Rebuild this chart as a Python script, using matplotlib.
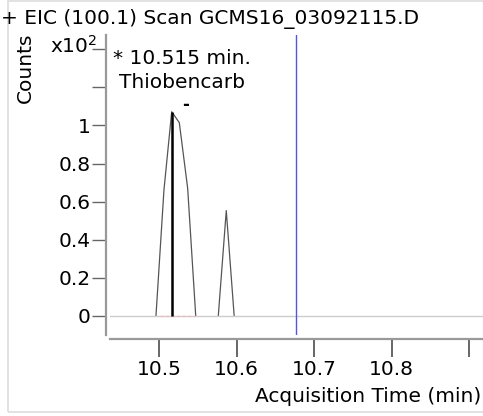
import matplotlib
matplotlib.use('Agg')
import matplotlib.pyplot as plt
import matplotlib.patches as mpatches

# Данные хроматограммы (x10^2 counts)
peak1_times = [10.4961, 10.5064, 10.5164, 10.5262, 10.5370, 10.5474]
peak1_counts = [0.0, 0.661, 1.072, 1.015, 0.670, 0.0]
peak2_times = [10.5765, 10.5868, 10.5970]
peak2_counts = [0.0, 0.553, 0.0]

rt_time = 10.5164
rt_height = 1.072
baseline_span = [10.5013, 10.5465]
cursor_time = 10.6768

x_ticks = [10.5, 10.6, 10.7, 10.8, 10.9]
x_labels = ['10.5', '10.6', '10.7', '10.8', '']
y_ticks = [0, 0.2, 0.4, 0.6, 0.8, 1.0, 1.2, 1.4]
y_labels = ['0', '0.2', '0.4', '0.6', '0.8', '1', '', '']

W, H = 483, 416
FS = 14.5
fig = plt.figure(figsize=(W / 100, H / 100), dpi=100, facecolor='white')
plt.rcParams['font.family'] = 'DejaVu Sans'

def fx(px):
    return px / W

def fy(py):
    return 1 - py / H

# рамка
fig.patches.append(mpatches.Rectangle((fx(8), fy(412)), 1.0, fy(1) - fy(412),
                                      transform=fig.transFigure, fill=False,
                                      edgecolor='#dddddd', linewidth=1.2))

ax = fig.add_axes([fx(110), fy(335), 1 - fx(110), fy(35) - fy(335)])
ax.set_xlim(10.4368, 10.918)
ax.set_ylim(-0.1, 1.475)

for s in ['top', 'right']:
    ax.spines[s].set_visible(False)
ax.spines['left'].set_position(('outward', 3))
ax.spines['bottom'].set_position(('outward', 3))
for s in ['left', 'bottom']:
    ax.spines[s].set_color('#999999')
    ax.spines[s].set_linewidth(1.6)

ax.set_xticks(x_ticks)
ax.set_xticklabels(x_labels, fontsize=FS)
ax.set_yticks(y_ticks)
ax.set_yticklabels(y_labels, fontsize=FS)
ax.tick_params(axis='x', length=13, width=1.4, color='#666666', pad=2)
ax.tick_params(axis='y', length=10, width=1.0, color='#666666', pad=1)

# линии
ax.axhline(0, color='#cccccc', linewidth=1.0, zorder=2)
ax.plot(baseline_span, [0, 0], color='#f4b8c4', linewidth=1.0,
        linestyle=(0, (2, 2)), zorder=3)
ax.plot(peak1_times, peak1_counts, color='#555555', linewidth=0.9, zorder=1)
ax.plot(peak2_times, peak2_counts, color='#555555', linewidth=0.9, zorder=1)
ax.plot([rt_time, rt_time], [0, rt_height], color='black', linewidth=1.8,
        zorder=4, solid_capstyle='butt')
ax.axvline(cursor_time, color='#5555dd', linewidth=1.0, zorder=3)

# подписи пика
lab_x = 10.5297
ax.text(lab_x, 1.35, '* 10.515 min.', ha='center', va='center', fontsize=FS)
ax.text(lab_x, 1.225, 'Thiobencarb', ha='center', va='center', fontsize=FS)
ax.text(lab_x + 0.004, 1.11, '-', ha='center', va='center', fontsize=12,
        fontweight='bold')

fig.text(fx(1), fy(19), '+ EIC (100.1) Scan GCMS16_03092115.D',
         ha='left', va='center', fontsize=FS)
fig.text(fx(25), fy(68), 'Counts', rotation=90, ha='center', va='center',
         fontsize=FS)
fig.text(fx(74), fy(46), r'x10$^2$', ha='center', va='center', fontsize=FS)
fig.text(fx(481), fy(397), 'Acquisition Time (min)', ha='right', va='center',
         fontsize=FS)

fig.savefig('out.png', dpi=100, facecolor='white')
